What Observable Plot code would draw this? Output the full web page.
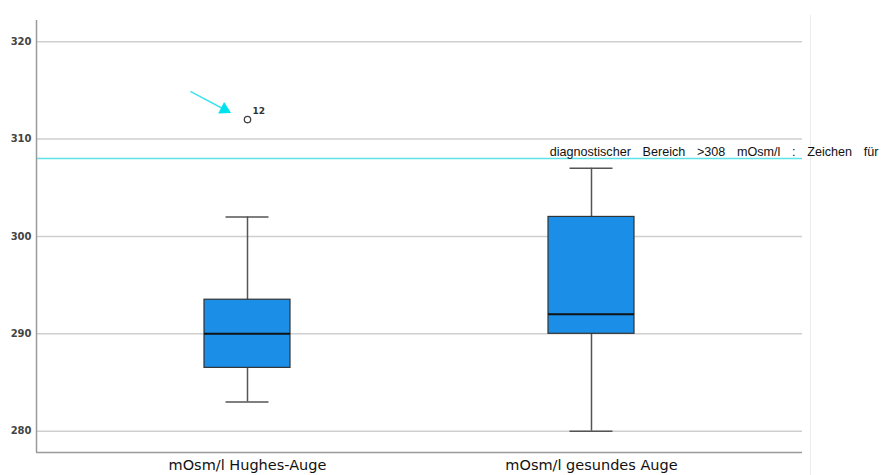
<!DOCTYPE html>
<html><head><meta charset="utf-8">
<script src="https://cdn.jsdelivr.net/npm/d3@7"></script>
<script src="https://cdn.jsdelivr.net/npm/@observablehq/plot@0.6"></script>
<style>
body{margin:0;background:#fff;}
#wrap{position:relative;width:885px;height:475px;}
#edge{position:absolute;left:810px;top:15px;width:0;height:460px;border-left:1px solid #ececec;}
#wrap svg{overflow:visible;position:absolute;left:0;top:0;}
</style></head><body><div id="wrap"><div id="edge"></div></div>
<script>
// Data
const categories = ["mOsm/l Hughes-Auge", "mOsm/l gesundes Auge"];
const whiskerLow = [283, 280];
const q1 = [286.5, 290];
const median = [290, 292];
const q3 = [293.5, 302];
const whiskerHigh = [302, 307];
const outlierCategory = [0];
const outlierValue = [312];
const outlierLabel = ["12"];
const threshold = 308;
const thresholdText = "diagnostischer Bereich >308 mOsm/l : Zeichen für";
const yTicks = [280, 290, 300, 310, 320];
// annotation arrow (data units: category index, mOsm/l)
const arrowFrom = [-0.166, 314.9];
const arrowTo = [-0.067, 313.03];

const rows = categories.map((c, i) => ({i, lo: whiskerLow[i], q1: q1[i], med: median[i], q3: q3[i], hi: whiskerHigh[i]}));
const outliers = outlierValue.map((v, k) => ({i: outlierCategory[k], v, label: outlierLabel[k]}));
const arrows = [{x1: arrowFrom[0], y1: arrowFrom[1], x2: arrowTo[0], y2: arrowTo[1]}];

const xDomain = [-0.6134, 1.6134];
const yDomain = [277.81, 322.17];
const boxHalf = 0.125, capHalf = 0.0625;

const chart = Plot.plot({
  width: 885, height: 475,
  marginLeft: 36, marginRight: 83, marginTop: 20, marginBottom: 23,
  style: {fontFamily: "DejaVu Sans", background: "transparent"},
  x: {type: "linear", domain: xDomain},
  y: {domain: yDomain},
  marks: [
    Plot.ruleY(yTicks, {stroke: "#cfcfcf", strokeWidth: 1.5}),
    Plot.ruleY([threshold], {stroke: "#5fe1e8", strokeWidth: 1.5}),
    Plot.ruleX(rows, {x: "i", y1: "lo", y2: "hi", stroke: "#555", strokeWidth: 1.5}),
    Plot.ruleY(rows, {y: "lo", x1: d => d.i - capHalf, x2: d => d.i + capHalf, stroke: "#555", strokeWidth: 1.5}),
    Plot.ruleY(rows, {y: "hi", x1: d => d.i - capHalf, x2: d => d.i + capHalf, stroke: "#555", strokeWidth: 1.5}),
    Plot.rectY(rows, {x1: d => d.i - boxHalf, x2: d => d.i + boxHalf, y1: "q1", y2: "q3", fill: "#1b8fe8", stroke: "#333", strokeWidth: 1.2}),
    Plot.ruleY(rows, {y: "med", x1: d => d.i - boxHalf, x2: d => d.i + boxHalf, stroke: "#111", strokeWidth: 2}),
    Plot.dot(outliers, {x: "i", y: "v", r: 3.2, stroke: "#444", strokeWidth: 1.3, fill: "white"}),
    Plot.text(outliers, {x: "i", y: "v", text: "label", dx: 5, dy: -8, textAnchor: "start", fontSize: 9, fontWeight: "bold", fill: "#333"}),
    Plot.link(arrows, {x1: "x1", y1: "y1", x2: "x2", y2: "y2", stroke: "#3fe2ec", strokeWidth: 1.5}),
    Plot.dot(arrows, {x: "x2", y: "y2", symbol: "triangle", r: 4.8, rotate: 117, fill: "#00e1ee", stroke: "none"}),
    Plot.ruleX([xDomain[0]], {stroke: "#9a9a9a", strokeWidth: 1.5}),
    Plot.ruleY([yDomain[0]], {stroke: "#9a9a9a", strokeWidth: 1.5}),
    Plot.text([{t: thresholdText, v: threshold}], {frameAnchor: "right", y: "v", text: "t", textAnchor: "end", lineAnchor: "bottom", dx: 76, dy: -2, fontFamily: "Liberation Sans", fontSize: 12.6, fill: "#111"}),
    Plot.axisY({ticks: yTicks, tickSize: 0, tickPadding: 5, fontSize: 10, fontWeight: "bold", fill: "#444", label: null}),
    Plot.axisX({ticks: [0, 1], tickFormat: i => categories[i], tickSize: 0, tickPadding: 7, fontSize: 14.5, fill: "#111", label: null})
  ]
});
d3.select(chart).selectAll("text").filter(function() { return this.textContent === thresholdText; })
  .style("word-spacing", "8.2px");
document.getElementById("wrap").appendChild(chart);
</script>
</body></html>
